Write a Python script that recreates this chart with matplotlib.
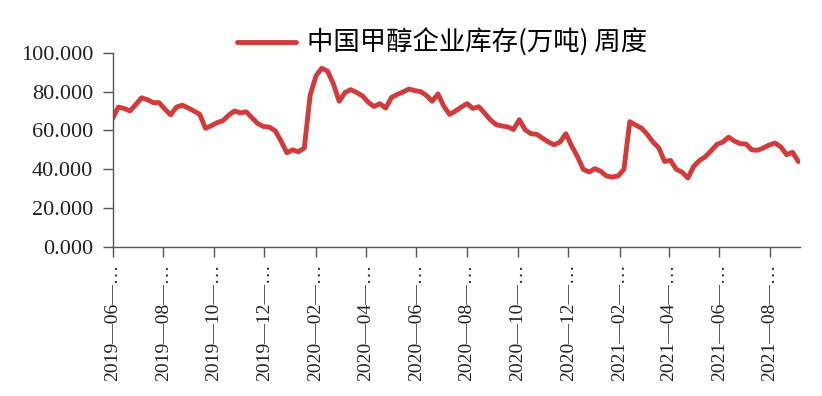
import pandas as pd
import matplotlib
matplotlib.use("Agg")
import matplotlib.pyplot as plt

# 中国甲醇企业库存(万吨) 周度, weekly from 2019-06-06
START_DATE = "2019-06-06"
inventory = [
    66.0, 72.0, 71.3, 70.0, 73.3, 76.8, 75.8, 74.3, 74.3, 71.0,
    68.0, 72.0, 73.0, 71.6, 70.0, 68.3, 61.1, 62.4, 64.0, 65.0,
    67.9, 70.0, 69.0, 69.6, 66.5, 63.5, 62.0, 61.7, 59.8, 54.5,
    48.5, 50.0, 49.0, 51.0, 78.0, 88.0, 92.0, 90.5, 84.0, 75.0,
    79.5, 81.0, 79.5, 77.8, 74.5, 72.3, 73.8, 71.5, 77.0, 78.5,
    79.8, 81.3, 80.5, 80.0, 78.0, 75.0, 78.8, 72.5, 68.2, 70.0,
    72.0, 73.8, 71.3, 72.2, 69.0, 65.5, 63.0, 62.3, 61.8, 60.5,
    65.5, 60.3, 58.3, 58.0, 56.0, 54.0, 52.6, 54.0, 58.3, 52.0,
    46.5, 40.0, 38.6, 40.3, 39.0, 36.5, 36.0, 36.6, 40.0, 64.5,
    62.8, 61.2, 58.0, 54.0, 51.0, 44.0, 44.6, 40.0, 38.5, 35.5,
    41.5, 44.5, 46.5, 49.5, 52.8, 54.0, 56.5, 54.5, 53.2, 53.0,
    50.0, 49.8, 51.0, 52.5, 53.5, 51.5, 47.5, 48.8, 44.0,
]
series_name = "中国甲醇企业库存(万吨) 周度"
y_ticks = [0, 20, 40, 60, 80, 100]


def main():
    dates = pd.date_range(START_DATE, periods=len(inventory), freq="7D")
    tick_dates = pd.date_range(START_DATE, periods=14, freq=pd.DateOffset(months=2))
    tick_labels = [f"{d.year}—{d.month:02d}—…" for d in tick_dates]

    fig = plt.figure(figsize=(8.22, 3.96), dpi=100)
    ax = fig.add_axes([0.1369, 0.3763, 0.8363, 0.4906])
    line, = ax.plot(dates, inventory, color="#d23b3b", lw=3.5,
                    solid_joinstyle="round", solid_capstyle="round")

    ax.set_xlim(dates[0], dates[-1] + pd.Timedelta(days=2))
    ax.set_ylim(0, 100)
    ax.set_yticks(y_ticks)
    ax.set_yticklabels([f"{v:.3f}" for v in y_ticks],
                       family="Liberation Serif", fontsize=16, color="#222222")
    ax.set_xticks(tick_dates)
    ax.set_xticklabels(tick_labels, rotation=90, family="Liberation Serif",
                       fontsize=14, color="#222222")

    for s in ["top", "right"]:
        ax.spines[s].set_visible(False)
    for s in ["left", "bottom"]:
        ax.spines[s].set_color("#555555")
        ax.spines[s].set_linewidth(1.0)
    ax.tick_params(axis="both", direction="out", length=7, width=1.0,
                   color="#555555")
    ax.tick_params(axis="y", pad=7)
    ax.tick_params(axis="x", pad=5)

    fig.legend([line], [series_name], loc="center",
               bbox_to_anchor=(0.538, 0.891), frameon=False,
               handlelength=2.23, handletextpad=0.42,
               prop={"family": ["Noto Sans CJK SC", "DejaVu Sans"],
                     "size": 19, "weight": "light"})

    fig.savefig("out.png", dpi=100, facecolor="white")
    plt.close(fig)


if __name__ == "__main__":
    main()
